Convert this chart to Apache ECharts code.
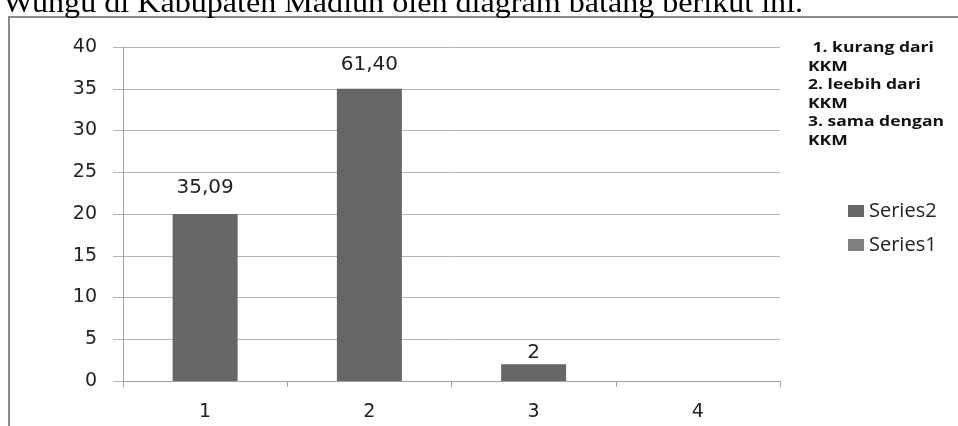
<!DOCTYPE html>
<html>
<head>
<meta charset="utf-8">
<script src="https://cdn.jsdelivr.net/npm/echarts@6/dist/echarts.min.js"></script>
<style>
  html, body { margin: 0; padding: 0; background: #ffffff; }
  #chart { width: 958px; height: 426px; }
</style>
</head>
<body>
<div id="chart"></div>
<script>
// Categories on the x axis
const categories = ['1', '2', '3', '4'];
// Bar heights (Series2) and the empty companion series (Series1)
const series2Values = [20, 35, 2, null];
const series1Values = [null, null, null, null];
// Text printed above each bar
const barLabels = ['35,09', '61,40', '2', ''];
// Y axis range
const yMin = 0, yMax = 40, yStep = 5;
// Side note listing what each category means
const noteLines = [' 1. kurang dari', 'KKM', '2. leebih dari', 'KKM', '3. sama dengan', 'KKM'];
const headingText = 'Wungu di Kabupaten Madiun oleh diagram batang berikut ini.';

// Gap between each bar top and its label
const labelGap = [16, 14, 2, 0];

const chart = echarts.init(document.getElementById('chart'), null, { renderer: 'canvas' });

const option = {
  backgroundColor: '#ffffff',
  animation: false,
  grid: { left: 123, right: 178, top: 47, bottom: 45, containLabel: false },
  legend: {
    orient: 'vertical',
    left: 843,
    top: 196,
    itemWidth: 16,
    itemHeight: 12,
    itemGap: 14,
    icon: 'rect',
    data: ['Series2', 'Series1'],
    textStyle: { fontFamily: 'Open Sans', fontSize: 20, color: '#222222' }
  },
  xAxis: {
    type: 'category',
    data: categories,
    axisLine: { lineStyle: { color: '#a0a0a0', width: 1 } },
    axisTick: { show: true, length: 6, lineStyle: { color: '#a0a0a0' } },
    axisLabel: { fontFamily: 'DejaVu Sans', fontSize: 19, color: '#222222', margin: 22 }
  },
  yAxis: {
    type: 'value',
    min: yMin,
    max: yMax,
    interval: yStep,
    axisLine: { show: true, lineStyle: { color: '#a0a0a0', width: 1 } },
    axisTick: { show: true, length: 10, lineStyle: { color: '#b4b4b4' } },
    splitLine: { show: true, lineStyle: { color: '#b4b4b4', width: 1 } },
    axisLabel: { fontFamily: 'DejaVu Sans', fontSize: 19, color: '#222222', margin: 26 }
  },
  series: [
    {
      name: 'Series2',
      type: 'bar',
      barWidth: 65,
      barGap: '-100%',
      itemStyle: { color: '#666666' },
      data: series2Values.map((v, i) => ({
        value: v,
        label: { distance: labelGap[i] }
      })),
      label: {
        show: true,
        position: 'top',
        fontFamily: 'DejaVu Sans',
        fontSize: 20,
        color: '#222222',
        formatter: p => barLabels[p.dataIndex]
      }
    },
    {
      name: 'Series1',
      type: 'bar',
      barWidth: 65,
      itemStyle: { color: '#808080' },
      data: series1Values
    }
  ],
  graphic: [
    {
      type: 'rect',
      silent: true,
      shape: { x: 9, y: 17, width: 1000, height: 500 },
      style: { fill: 'none', stroke: '#8a8a8a', lineWidth: 2 }
    },
    {
      type: 'text',
      x: 3,
      y: 4,
      scaleX: 1.07,
      style: {
        text: headingText,
        fontFamily: 'Liberation Serif',
        fontSize: 30,
        fill: '#000000',
        align: 'left',
        verticalAlign: 'middle'
      }
    },
    {
      type: 'text',
      x: 808,
      y: 39,
      scaleX: 1.25,
      style: {
        text: noteLines.join('\n'),
        fontFamily: 'Open Sans',
        fontWeight: 'bold',
        fontSize: 14,
        lineHeight: 18.5,
        fill: '#111111',
        align: 'left',
        verticalAlign: 'top'
      }
    }
  ]
};

chart.setOption(option);
</script>
</body>
</html>
